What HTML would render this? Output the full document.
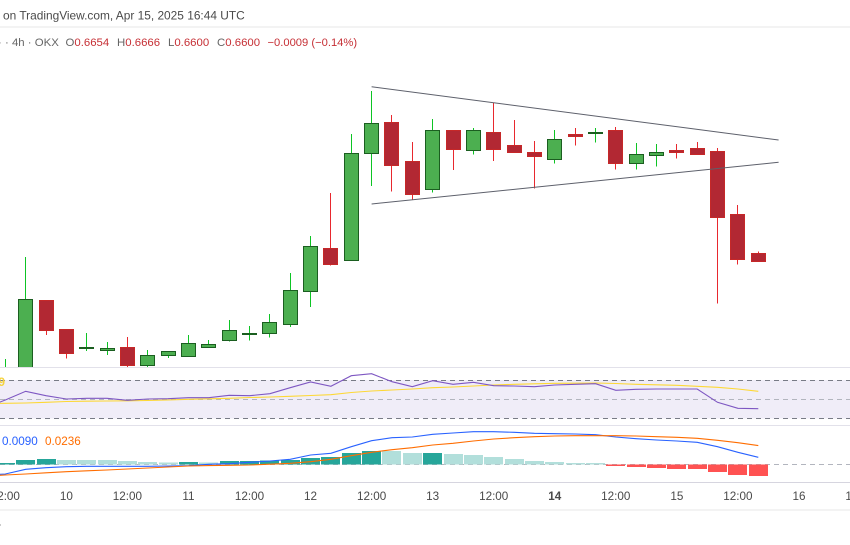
<!DOCTYPE html>
<html lang="en">
<head>
<meta charset="utf-8">
<title>Candlestick chart</title>
<style>
html,body{margin:0;padding:0;background:#fff;width:850px;height:545px;overflow:hidden}
svg{display:block;font-family:"Liberation Sans",sans-serif}
</style>
</head>
<body>
<svg id="chart" xmlns="http://www.w3.org/2000/svg" width="850" height="545" viewBox="0 0 850 545">
  <defs>
    <clipPath id="price-clip"><rect x="0" y="28" width="850" height="339"/></clipPath>
  </defs>
  <rect x="0" y="0" width="850" height="545" fill="#ffffff"/>
  <text x="3" y="19.5" font-size="11.9" fill="#4a4a4a">on TradingView.com, Apr 15, 2025 16:44 UTC</text>
  <rect x="0" y="26" width="850" height="2" fill="#f3f3f3"/>
  <text x="-2" y="46" font-size="11.4" fill="#777">·</text>
  <text x="5" y="46" font-size="11.4" fill="#666">· 4h · OKX</text>
  <text x="65.5" y="46" font-size="11.4" fill="#666">O<tspan fill="#c62f35">0.6654</tspan></text>
  <text x="117" y="46" font-size="11.4" fill="#666">H<tspan fill="#c62f35">0.6666</tspan></text>
  <text x="168" y="46" font-size="11.4" fill="#666">L<tspan fill="#c62f35">0.6600</tspan></text>
  <text x="217" y="46" font-size="11.4" fill="#666">C<tspan fill="#c62f35">0.6600</tspan></text>
  <text x="267.5" y="46" font-size="11.2" fill="#c62f35">−0.0009 (−0.14%)</text>

  <g id="price-layer" clip-path="url(#price-clip)"></g>
  <g id="trend-layer"></g>

  <rect x="0" y="367" width="850" height="1" fill="#e2e1ea"/>
  <rect x="0" y="380" width="850" height="38.5" fill="#f0edf8"/>
  <line x1="0" x2="850" y1="380.5" y2="380.5" stroke="#787b86" stroke-dasharray="5 4"/>
  <line x1="0" x2="850" y1="399.5" y2="399.5" stroke="#b2b5be" stroke-dasharray="5 4"/>
  <line x1="0" x2="850" y1="418.5" y2="418.5" stroke="#787b86" stroke-dasharray="5 4"/>
  <text x="5" y="386" text-anchor="end" font-size="12" font-weight="bold" fill="#f5d33f">9</text>
  <g id="rsi-layer"></g>

  <rect x="0" y="425" width="850" height="1" fill="#e2e1ea"/>
  <text x="2" y="445" font-size="11.7" fill="#2962ff">0.0090</text>
  <text x="45" y="445" font-size="11.7" fill="#ff6d00">0.0236</text>
  <line x1="0" x2="850" y1="464.5" y2="464.5" stroke="#b2b5be" stroke-dasharray="5 4"/>
  <g id="macd-layer"></g>

  <rect x="0" y="482" width="850" height="1" fill="#d6d5df"/>
  <g id="axis-layer"></g>
  <rect x="0" y="509" width="850" height="2" fill="#f3f3f3"/>
  <circle cx="0" cy="525" r="1" fill="#bbbbbb"/>
</svg>
<script>
// ---- data ----
const opens  = [.5732,.5732,.6325,.6124,.5992,.5977,.5998,.5867,.5937,.5930,.5993,.6042,.6084,.6091,.6154,.6390,.6689,.6605,.7354,.7566,.7300,.7102,.7517,.7372,.7503,.7412,.7363,.7309,.7489,.7491,.7517,.7281,.7337,.7377,.7389,.7370,.6929,.6654];
const highs  = [.5914,.6628,.6325,.6124,.6096,.6033,.6068,.5977,.5968,.6082,.6047,.6187,.6145,.6229,.6516,.6775,.7076,.7489,.7790,.7622,.7433,.7594,.7517,.7531,.7711,.7587,.7440,.7517,.7531,.7531,.7538,.7426,.7419,.7419,.7433,.7391,.6992,.6666];
const lows   = [.5697,.5697,.6082,.5916,.5970,.5942,.5858,.5858,.5921,.5930,.5993,.6035,.6042,.6063,.6138,.6278,.6567,.6605,.7125,.7085,.7032,.7078,.7237,.7344,.7300,.7358,.7106,.7281,.7407,.7428,.7239,.7239,.7260,.7316,.7344,.6301,.6574,.6600];
const closes = [.5837,.6332,.6112,.5951,.5998,.5991,.5867,.5940,.5968,.6024,.6017,.6115,.6096,.6171,.6395,.6703,.6574,.7354,.7564,.7267,.7064,.7515,.7379,.7515,.7379,.7358,.7330,.7452,.7470,.7503,.7281,.7347,.7361,.7358,.7344,.6903,.6609,.6600];

// The indicator arrays start one bar before the first candle (bar index -1), which lies off the left edge.
const rsiValues = [41.0,49.3,58.4,53.8,50.3,51.1,51.1,48.9,50.3,50.6,51.7,51.7,54.2,53.8,55.9,62.2,68.2,63.7,74.8,76.9,68.5,63.3,69.6,65.8,67.9,64.3,64.0,63.3,65.1,65.8,66.4,59.5,60.5,60.8,60.8,60.8,46.8,40.5,40.1];
const rsiMaValues = [45.5,45.8,46.1,46.8,47.7,48.0,48.2,48.4,48.7,49.3,50.0,50.5,51.1,51.9,52.4,53.2,54.0,54.8,57.2,58.7,59.8,60.8,62.2,62.9,64.0,65.1,65.8,66.3,66.8,66.9,67.2,66.6,65.8,65.3,64.7,63.7,62.6,60.8,58.4];

const macdValues = [-.0135,-.0119,-.0060,-.0040,-.0028,-.0023,-.0023,-.0023,-.0023,-.0019,-.0015,.0003,.0010,.0028,.0044,.0065,.0119,.0140,.0223,.0298,.0335,.0344,.0378,.0394,.0410,.0410,.0403,.0390,.0385,.0381,.0373,.0344,.0323,.0306,.0294,.0278,.0223,.0153,.0090];
const signalValues = [-.0145,-.0131,-.0119,-.0104,-.0090,-.0079,-.0069,-.0056,-.0044,-.0031,-.0019,-.0014,-.0010,-.0006,.0004,.0015,.0035,.0065,.0110,.0153,.0185,.0210,.0244,.0265,.0294,.0319,.0335,.0348,.0356,.0360,.0360,.0360,.0356,.0348,.0340,.0328,.0303,.0273,.0236];
const histValues = [.0019,.0056,.0069,.0056,.0056,.0056,.0044,.0031,.0028,.0034,.0028,.0044,.0046,.0048,.0056,.0081,.0094,.0144,.0169,.0168,.0144,.0146,.0131,.0119,.0094,.0069,.0044,.0031,.0019,.0019,-.0019,-.0031,-.0044,-.0056,-.0056,-.0094,-.0131,-.0144];

const tickLabels = ["12:00","10","12:00","11","12:00","12","12:00","13","12:00","14","12:00","15","12:00","16","12:00"];
const tickBars   = [0,3,6,9,12,15,18,21,24,27,30,33,36,39,42];
const boldTicks  = ["14"];

const trendUpperBars = [18,38];
const trendUpperPrices = [.7820,.7447];
const trendLowerBars = [18,38];
const trendLowerPrices = [.6999,.7291];

// ---- axis functions ----
function xBar(i){ return 5.3 + 20.35 * i; }
function yPrice(p){ return 261 - (p - 0.66) / 0.0007; }
function yRsi(v){ return 399.3 - (v - 50) * 0.95; }
function yMacd(v){ return 464.5 - v * 800; }
function snap(v){ return Math.floor(v) + 0.5; }

const NS = "http://www.w3.org/2000/svg";
function make(tag, parent, attrs){
  const el = document.createElementNS(NS, tag);
  for (const k in attrs) el.setAttribute(k, attrs[k]);
  parent.appendChild(el);
  return el;
}
function linePoints(values, yFn){
  return values.map(function(v, i){ return xBar(i - 1).toFixed(1) + "," + yFn(v).toFixed(1); }).join(" ");
}

// ---- candles ----
const priceLayer = document.getElementById("price-layer");
opens.forEach(function(o, i){
  const c = closes[i];
  const up = c >= o;
  const cx = snap(xBar(i));
  const wick = make("line", priceLayer, {x1:cx, x2:cx, y1:yPrice(highs[i]), y2:yPrice(lows[i]), stroke: up ? "#0dc424" : "#e8282e", "stroke-width":1, "shape-rendering":"crispEdges"});
  
  
  const top = snap(yPrice(Math.max(o, c)));
  const bot = snap(yPrice(Math.min(o, c)));
  const body = make("rect", priceLayer, {x:cx - 7, y:top, width:14, height:Math.max(bot - top, 1), fill: up ? "#4caf50" : "#b22833", stroke: up ? "#1b5e20" : "#c62828", "stroke-width":1, "shape-rendering":"crispEdges"});
  
  
});

// ---- trendlines ----
const trendLayer = document.getElementById("trend-layer");
const upperTrend = make("line", trendLayer, {x1:xBar(trendUpperBars[0]), y1:yPrice(trendUpperPrices[0]), x2:xBar(trendUpperBars[1]), y2:yPrice(trendUpperPrices[1]), stroke:"#5d606b", "stroke-width":1});


const lowerTrend = make("line", trendLayer, {x1:xBar(trendLowerBars[0]), y1:yPrice(trendLowerPrices[0]), x2:xBar(trendLowerBars[1]), y2:yPrice(trendLowerPrices[1]), stroke:"#5d606b", "stroke-width":1});



// ---- RSI ----
const rsiLayer = document.getElementById("rsi-layer");
const rsiMaLine = make("polyline", rsiLayer, {points:linePoints(rsiMaValues, yRsi), fill:"none", stroke:"#fdd835", "stroke-width":1.1});


const rsiLine = make("polyline", rsiLayer, {points:linePoints(rsiValues, yRsi), fill:"none", stroke:"#7e57c2", "stroke-width":1.1});



// ---- MACD ----
const macdLayer = document.getElementById("macd-layer");
histValues.forEach(function(v, i){
  const prev = i > 0 ? histValues[i - 1] : -1;
  const col = v < 0 ? "#ff5252" : (v > prev ? "#26a69a" : "#b2dfdb");
  const y0 = yMacd(0), y1 = yMacd(v);
  const left = Math.round(xBar(i) - 9.5);
  const bar = make("rect", macdLayer, {x:left, y:Math.min(y0, y1), width:19, height:Math.abs(y1 - y0), fill:col, "shape-rendering":"crispEdges"});
  
  
});
const macdLine = make("polyline", macdLayer, {points:linePoints(macdValues, yMacd), fill:"none", stroke:"#2962ff", "stroke-width":1.1});


const signalLine = make("polyline", macdLayer, {points:linePoints(signalValues, yMacd), fill:"none", stroke:"#ff6d00", "stroke-width":1.1});



// ---- time axis ----
const axisLayer = document.getElementById("axis-layer");
tickLabels.forEach(function(label, i){
  const t = make("text", axisLayer, {x:xBar(tickBars[i]), y:500, "text-anchor":"middle", "font-size":11.7, fill:"#4a4a4a", "font-weight": boldTicks.indexOf(label) >= 0 ? "bold" : "normal"});
  
  
  t.textContent = label;
});
</script>
</body>
</html>
